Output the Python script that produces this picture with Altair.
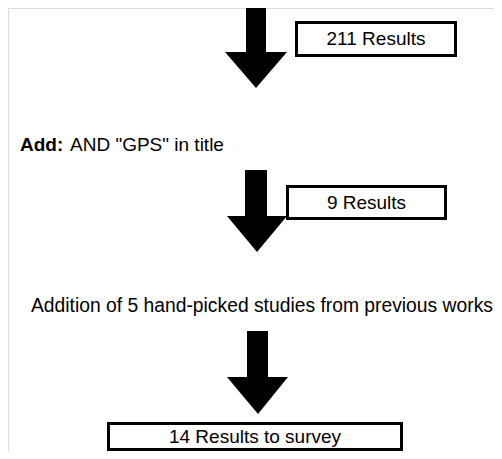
import altair as alt
import pandas as pd

# ---- content (data) ----
result_counts = [211, 9, 14]
result_labels = ["211 Results", "9 Results", "14 Results to survey"]
step_keywords = ["Add:"]
step_texts = ['AND "GPS" in title']
addition_notes = ["Addition of 5 hand-picked studies from previous works"]

# ---- layout (page pixel coordinates of the diagram) ----
W, H = 502, 459
M = 8  # page margin
arrow_shaft_x = [(246, 266), (245, 267), (247, 268)]
arrow_shaft_y = [(5, 53), (170, 217), (331, 378)]
arrow_head_x = [(225, 256, 287), (227, 257, 287), (227, 258, 288)]
arrow_head_y = [(52, 88), (216, 252), (377, 414)]
box_x = [(296.5, 455.5), (287.5, 445.5), (108.5, 401.5)]
box_y = [(22.5, 55.5), (186.5, 218.5), (423.5, 449.5)]
label_pos = [(376, 39), (366.5, 203), (255, 437)]
keyword_pos = [(20, 145)]
steptext_pos = [(70, 145)]
note_pos = [(31, 306)]

shafts = pd.DataFrame({
    "x": [a for a, b in arrow_shaft_x], "x2": [b for a, b in arrow_shaft_x],
    "y": [a for a, b in arrow_shaft_y], "y2": [b for a, b in arrow_shaft_y],
})

head_rows = []
for i, ((xl, xt, xr), (yt, ytip)) in enumerate(zip(arrow_head_x, arrow_head_y)):
    head_rows += [
        {"arrow": i, "x": xl, "y": yt, "y2": yt},
        {"arrow": i, "x": xt, "y": yt, "y2": ytip},
        {"arrow": i, "x": xr, "y": yt, "y2": yt},
    ]
heads = pd.DataFrame(head_rows)

boxes = pd.DataFrame({
    "count": result_counts, "label": result_labels,
    "x": [a for a, b in box_x], "x2": [b for a, b in box_x],
    "y": [a for a, b in box_y], "y2": [b for a, b in box_y],
    "lx": [p[0] for p in label_pos], "ly": [p[1] for p in label_pos],
})

keywords = pd.DataFrame({"text": step_keywords,
                         "x": [p[0] for p in keyword_pos], "y": [p[1] for p in keyword_pos]})
steptexts = pd.DataFrame({"text": step_texts,
                          "x": [p[0] for p in steptext_pos], "y": [p[1] for p in steptext_pos]})
notes = pd.DataFrame({"text": addition_notes,
                      "x": [p[0] for p in note_pos], "y": [p[1] for p in note_pos]})

xs = alt.Scale(domain=[M, W - M], nice=False, zero=False)
ys = alt.Scale(domain=[M, H - M], nice=False, zero=False, reverse=True)
X = lambda f: alt.X(f"{f}:Q", scale=xs, axis=None)
Y = lambda f: alt.Y(f"{f}:Q", scale=ys, axis=None)

FONT = "Liberation Sans"
FS = 19

shaft_layer = alt.Chart(shafts).mark_rect(color="black").encode(
    x=X("x"), x2="x2", y=Y("y"), y2="y2")

head_layer = alt.Chart(heads).mark_area(color="black", interpolate="linear").encode(
    x=X("x"), y=Y("y"), y2="y2", detail="arrow:N")

box_layer = alt.Chart(boxes).mark_rect(fill="white", stroke="black", strokeWidth=3).encode(
    x=X("x"), x2="x2", y=Y("y"), y2="y2")

label_layer = alt.Chart(boxes).mark_text(
    font=FONT, fontSize=FS, color="black", align="center", baseline="middle").encode(
    x=X("lx"), y=Y("ly"), text="label:N")

kw_layer = alt.Chart(keywords).mark_text(
    font=FONT, fontSize=FS, fontWeight="bold", color="black", align="left", baseline="middle").encode(
    x=X("x"), y=Y("y"), text="text:N")

st_layer = alt.Chart(steptexts).mark_text(
    font=FONT, fontSize=FS, color="black", align="left", baseline="middle").encode(
    x=X("x"), y=Y("y"), text="text:N")

note_layer = alt.Chart(notes).mark_text(
    font=FONT, fontSize=19.3, color="black", align="left", baseline="middle").encode(
    x=X("x"), y=Y("y"), text="text:N")

chart = alt.layer(
    shaft_layer, head_layer, box_layer, label_layer, kw_layer, st_layer, note_layer
).properties(
    width=W - 2 * M, height=H - 2 * M, autosize=alt.AutoSizeParams(type="none"), padding=0
).configure_view(stroke="transparent", strokeWidth=0).configure(background="white")

chart.save("out.html", embed_options={"renderer": "svg", "actions": False})
